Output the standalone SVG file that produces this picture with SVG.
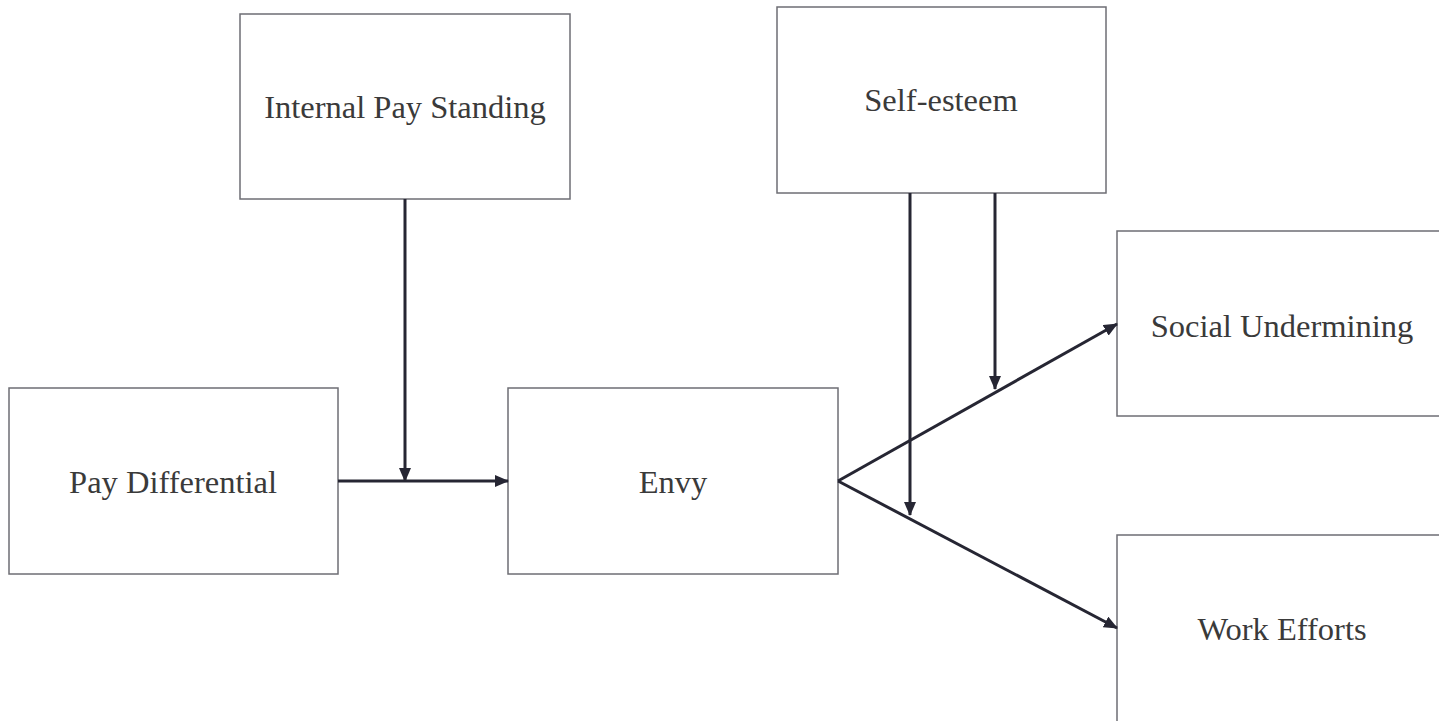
<svg xmlns="http://www.w3.org/2000/svg" width="1439" height="721" viewBox="0 0 1439 721">
<style>
.box{fill:#fff;stroke:#6e6e74;stroke-width:1.5}
.lbl{font-family:"Liberation Serif","Times New Roman",serif;font-size:32.5px;fill:#3a3a3a;text-anchor:middle;dominant-baseline:central}
.con{stroke:#262633;stroke-width:3;fill:none;marker-end:url(#ah)}
</style>
<defs>
<marker id="ah" markerUnits="userSpaceOnUse" markerWidth="14" markerHeight="12" refX="13" refY="6" orient="auto">
<path d="M0,0 L14,6 L0,12 Z" fill="#262633"/>
</marker>
</defs>
<rect width="1439" height="721" fill="#fff"/>
<g id="n-internal"><rect class="box" x="240" y="14" width="330" height="185"/><text class="lbl" x="405" y="107">Internal Pay Standing</text></g>
<g id="n-selfesteem"><rect class="box" x="777" y="7" width="329" height="186"/><text class="lbl" x="941" y="100">Self-esteem</text></g>
<g id="n-paydiff"><rect class="box" x="9" y="388" width="329" height="186"/><text class="lbl" x="173" y="482">Pay Differential</text></g>
<g id="n-envy"><rect class="box" x="508" y="388" width="330" height="186"/><text class="lbl" x="673" y="482">Envy</text></g>
<g id="n-social"><rect class="box" x="1117" y="231" width="340" height="185"/><text class="lbl" x="1282" y="326">Social Undermining</text></g>
<g id="n-work"><rect class="box" x="1117" y="535" width="340" height="200"/><text class="lbl" x="1282" y="629">Work Efforts</text></g>
<g id="connectors">
<line class="con" x1="338" y1="481" x2="508" y2="481"/>
<line class="con" x1="405" y1="199" x2="405" y2="481"/>
<line class="con" x1="838" y1="481" x2="1117" y2="324"/>
<line class="con" x1="838" y1="481" x2="1117" y2="628"/>
<line class="con" x1="910" y1="193" x2="910" y2="515"/>
<line class="con" x1="995" y1="193" x2="995" y2="389"/>
</g>
</svg>
